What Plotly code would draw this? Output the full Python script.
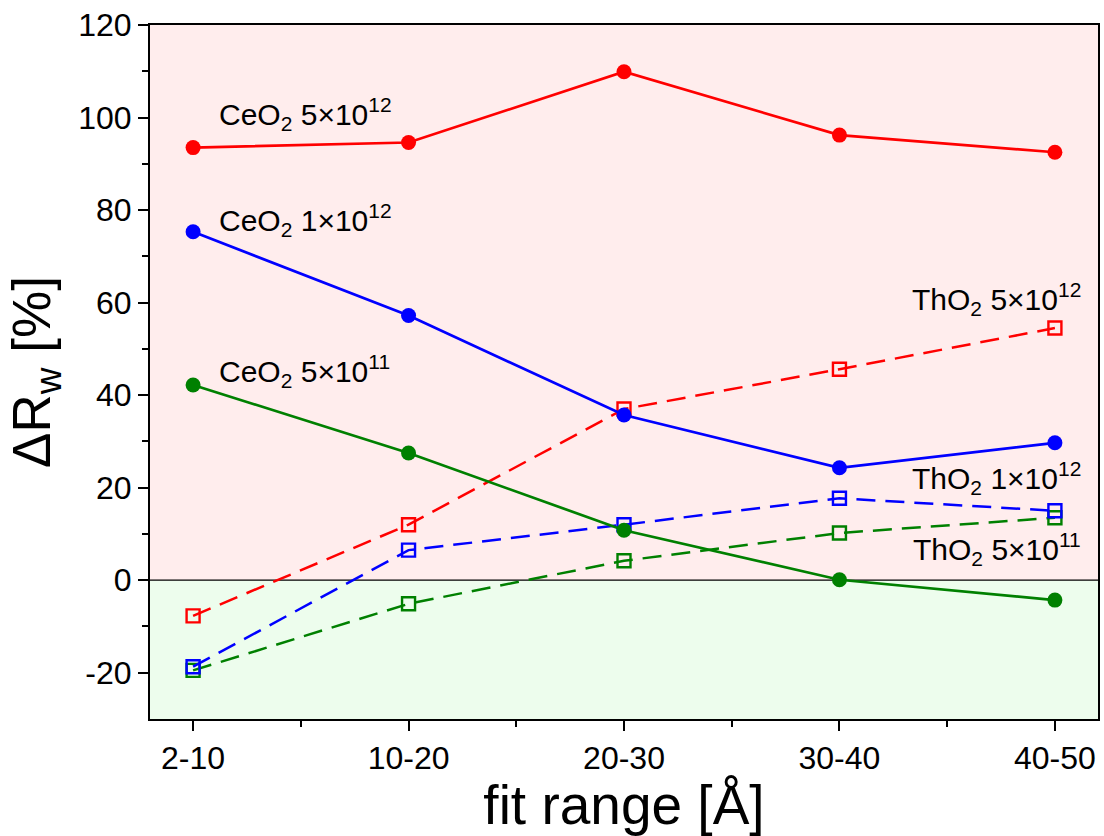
import plotly.graph_objects as go

categories = ["2-10", "10-20", "20-30", "30-40", "40-50"]
ceo2_5e12 = [93.5, 94.6, 109.9, 96.2, 92.5]
ceo2_1e12 = [75.3, 57.2, 35.7, 24.3, 29.7]
ceo2_5e11 = [42.2, 27.5, 10.8, 0.1, -4.3]
tho2_5e12 = [-7.7, 12.0, 37.0, 45.6, 54.5]
tho2_1e12 = [-18.7, 6.5, 12.0, 17.7, 15.0]
tho2_5e11 = [-19.5, -5.1, 4.2, 10.2, 13.5]
y_ticks = [-20, 0, 20, 40, 60, 80, 100, 120]
y_ticklabels = ["-20", "0", "20", "40", "60", "80", "100", "120"]

xs = list(range(len(categories)))
RED, BLUE, GREEN = "#ff0000", "#0000ff", "#008000"
FONT = "Liberation Sans, Arial"

fig = go.Figure()

def solid(y, c):
    fig.add_trace(go.Scatter(x=xs, y=y, mode="lines+markers",
                             line=dict(color=c, width=2.7),
                             marker=dict(symbol="circle", size=15, color=c),
                             showlegend=False))

def dashed(y, c):
    fig.add_trace(go.Scatter(x=xs, y=y, mode="lines+markers",
                             line=dict(color=c, width=2.5, dash="19px,10px"),
                             marker=dict(symbol="square-open", size=13, color=c,
                                         line=dict(width=2.4, color=c)),
                             showlegend=False))

dashed(tho2_5e11, GREEN)
dashed(tho2_1e12, BLUE)
dashed(tho2_5e12, RED)
solid(ceo2_5e11, GREEN)
solid(ceo2_1e12, BLUE)
solid(ceo2_5e12, RED)

fig.add_shape(type="rect", xref="paper", yref="y", x0=0, x1=1, y0=0, y1=120,
              fillcolor="#ffeded", line=dict(width=0), layer="below")
fig.add_shape(type="rect", xref="paper", yref="y", x0=0, x1=1, y0=-30, y1=0,
              fillcolor="#edfded", line=dict(width=0), layer="below")
fig.add_shape(type="line", xref="paper", yref="y", x0=0, x1=1, y0=0, y1=0,
              line=dict(color="black", width=1.2), layer="below")

afont = dict(family=FONT, size=30, color="black")
def ann(text, x, y, xanchor):
    fig.add_annotation(text=text, x=x, y=y, xref="paper", yref="y",
                       xanchor=xanchor, yanchor="middle", showarrow=False, font=afont)

ann("CeO<sub>2</sub> 5×10<sup>12</sup>", 0.071, 100.8, "left")
ann("CeO<sub>2</sub> 1×10<sup>12</sup>", 0.071, 77.9, "left")
ann("CeO<sub>2</sub> 5×10<sup>11</sup>", 0.071, 45.3, "left")
ann("ThO<sub>2</sub> 5×10<sup>12</sup>", 0.984, 60.8, "right")
ann("ThO<sub>2</sub> 1×10<sup>12</sup>", 0.984, 22.1, "right")
ann("ThO<sub>2</sub> 5×10<sup>11</sup>", 0.984, 6.8, "right")

tfont = dict(family=FONT, size=32, color="black")
fig.update_xaxes(range=[-0.2, 4.2], tickvals=xs, ticktext=categories,
                 showgrid=False, zeroline=False, showline=True, mirror=True,
                 linecolor="black", linewidth=2, ticks="outside", ticklen=10,
                 tickwidth=2, tickcolor="black", tickfont=tfont,
                 minor=dict(tickvals=[0.5, 1.5, 2.5, 3.5], ticks="outside",
                            ticklen=6, tickwidth=2, tickcolor="black"),
                 title=dict(text="fit range [Å]", standoff=4,
                            font=dict(family=FONT, size=55, color="black")))
fig.update_yaxes(range=[-30, 120], tickvals=y_ticks, ticktext=y_ticklabels,
                 showgrid=False, zeroline=False, showline=True, mirror=True,
                 linecolor="black", linewidth=2, ticks="outside", ticklen=10,
                 tickwidth=2, tickcolor="black", tickfont=tfont,
                 minor=dict(tickvals=[-10, 10, 30, 50, 70, 90, 110], ticks="outside",
                            ticklen=6, tickwidth=2, tickcolor="black"),
                 title=dict(text="ΔR<sub>w</sub> [%]", standoff=11,
                            font=dict(family=FONT, size=53, color="black")))

fig.update_layout(width=1104, height=836, margin=dict(l=150, r=4, t=25, b=117),
                  plot_bgcolor="white", paper_bgcolor="white")

fig.write_html("out.html")
